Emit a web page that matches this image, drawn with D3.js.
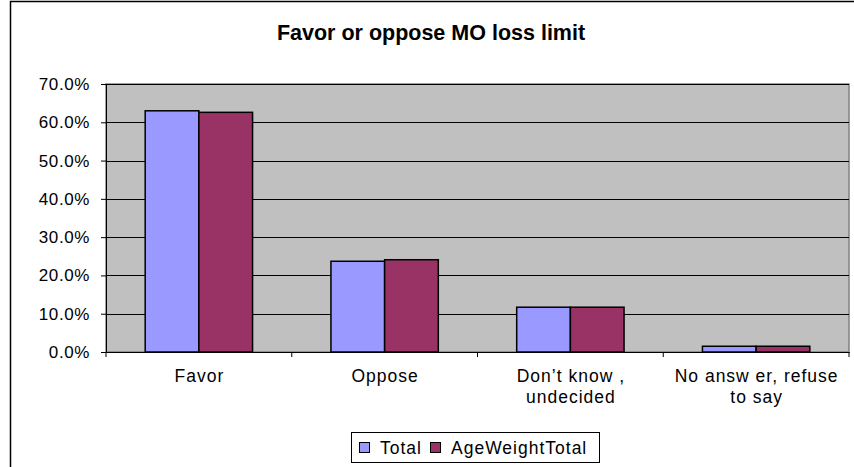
<!DOCTYPE html>
<html>
<head>
  <meta charset="utf-8" />
  <script src="https://cdn.jsdelivr.net/npm/d3@7"></script>
  <style>
    body { margin: 0; background: #fff; }
    text { font-family: "Liberation Sans", Arial, sans-serif; fill: #000; }
  </style>
</head>
<body>
  <div id="chart"></div>
  <script>
    const categories = [["Favor"], ["Oppose"], ["Don\u2019t know ,", "undecided"], ["No answ er, refuse", "to say"]];
    const seriesNames = ["Total", "AgeWeightTotal"];
    const totalValues = [0.630, 0.237, 0.117, 0.015];
    const ageWeightValues = [0.626, 0.241, 0.117, 0.015];
    const yTicks = [0, 0.1, 0.2, 0.3, 0.4, 0.5, 0.6, 0.7];
    const colors = ["#9999FF", "#993366"];

    const width = 854, height = 467;
    const marginLeft = 106, marginRight = 5, marginTop = 84, marginBottom = 115;

    const svg = d3.select("#chart").append("svg")
      .attr("width", width)
      .attr("height", height);

    // outer chart border (cut off on right and bottom)
    svg.append("path")
      .attr("d", "M10.5,467 V1.5 H854")
      .attr("fill", "none")
      .attr("stroke", "#000")
      .attr("stroke-width", 1.5);

    svg.append("text")
      .attr("x", 431).attr("y", 40)
      .attr("text-anchor", "middle")
      .style("font-size", "21.5px")
      .style("font-weight", "bold")
      .text("Favor or oppose MO loss limit");

    const x0 = d3.scaleBand()
      .domain(d3.range(categories.length))
      .range([marginLeft, width - marginRight]);
    const x1 = d3.scaleBand()
      .domain(d3.range(seriesNames.length))
      .range([0, x0.bandwidth()])
      .paddingOuter(0.73);
    const y = d3.scaleLinear()
      .domain([0, 0.7])
      .range([height - marginBottom, marginTop]);

    // plot area
    svg.append("rect")
      .attr("x", marginLeft).attr("y", marginTop)
      .attr("width", width - marginRight - marginLeft)
      .attr("height", y(0) - marginTop)
      .attr("fill", "#C0C0C0")
      .attr("stroke", "#808080")
      .attr("stroke-width", 1.5);

    // gridlines
    svg.append("g")
      .selectAll("line")
      .data(yTicks.slice(1))
      .join("line")
      .attr("x1", marginLeft).attr("x2", width - marginRight)
      .attr("y1", d => Math.round(y(d)) + 0.5).attr("y2", d => Math.round(y(d)) + 0.5)
      .attr("stroke", "#000");

    const seriesData = [totalValues, ageWeightValues];
    const groups = svg.append("g")
      .selectAll("g")
      .data(categories.map((c, i) => i))
      .join("g")
      .attr("transform", i => `translate(${x0(i)},0)`);

    groups.selectAll("rect")
      .data(i => seriesData.map((s, k) => ({ k, v: s[i] })))
      .join("rect")
      .attr("x", d => x1(d.k))
      .attr("width", x1.bandwidth())
      .attr("y", d => y(d.v))
      .attr("height", d => y(0) - y(d.v))
      .attr("fill", d => colors[d.k])
      .attr("stroke", "#000")
      .attr("stroke-width", 1.5);

    // y axis
    const yAxis = d3.axisLeft(y)
      .tickValues(yTicks)
      .tickFormat(d3.format(".1%"))
      .tickSize(5)
      .tickPadding(11);
    const gy = svg.append("g")
      .attr("transform", `translate(${marginLeft},0)`)
      .call(yAxis);
    gy.select(".domain").attr("stroke", "#000");
    gy.selectAll(".tick line").attr("stroke", "#000");
    gy.selectAll(".tick text")
      .style("font-size", "17px")
      .style("font-family", "Liberation Sans, Arial, sans-serif")
      .attr("letter-spacing", "0.6px");

    // x axis line and ticks at category boundaries
    const xAxis = d3.axisBottom(x0).tickSize(0).tickFormat("");
    const gx = svg.append("g")
      .attr("transform", `translate(0,${y(0)})`)
      .call(xAxis);
    gx.select(".domain").attr("stroke", "#000");
    gx.selectAll(".tick").remove();
    gx.selectAll(".bound")
      .data(d3.range(categories.length + 1))
      .join("line")
      .attr("x1", i => i < categories.length ? x0(i) : width - marginRight)
      .attr("x2", i => i < categories.length ? x0(i) : width - marginRight)
      .attr("y1", 0).attr("y2", 5)
      .attr("stroke", "#000");

    // category labels
    const labels = svg.append("g")
      .selectAll("text")
      .data(categories)
      .join("text")
      .attr("text-anchor", "middle")
      .attr("x", (d, i) => x0(i) + x0.bandwidth() / 2 + 0.5)
      .attr("y", 382)
      .style("font-size", "17.5px")
      .attr("letter-spacing", "1px");
    labels.selectAll("tspan")
      .data(d => d)
      .join("tspan")
      .attr("x", function () { return this.parentNode.getAttribute("x"); })
      .attr("dy", (d, i) => i === 0 ? 0 : 20.5)
      .text(d => d);

    // legend
    const legend = svg.append("g");
    legend.append("rect")
      .attr("x", 351.5).attr("y", 432.5)
      .attr("width", 248).attr("height", 30)
      .attr("fill", "#fff")
      .attr("stroke", "#000");
    const legendX = [359.5, 430.5];
    const item = legend.selectAll("g")
      .data(seriesNames)
      .join("g")
      .attr("transform", (d, i) => `translate(${legendX[i]},442.5)`);
    item.append("rect")
      .attr("width", 10).attr("height", 10)
      .attr("fill", (d, i) => colors[i])
      .attr("stroke", "#000");
    item.append("text")
      .attr("x", 20.5).attr("y", 11)
      .style("font-size", "17.5px")
      .attr("letter-spacing", "1px")
      .text(d => d);
  </script>
</body>
</html>
